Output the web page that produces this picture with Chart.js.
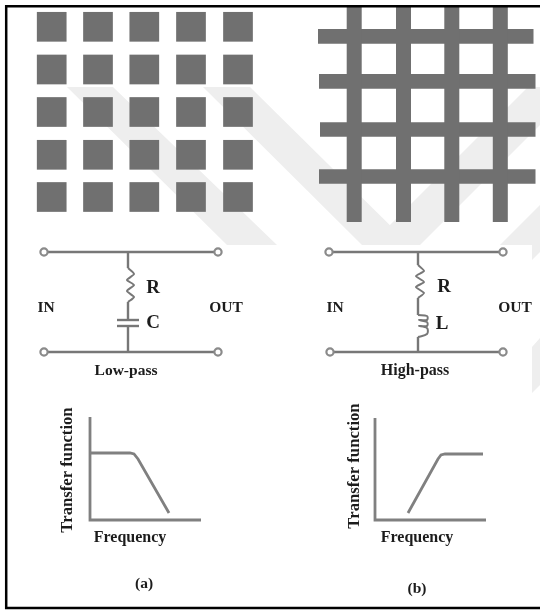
<!DOCTYPE html>
<html><head><meta charset="utf-8">
<style>html,body{margin:0;padding:0;background:#fff}canvas{display:block;filter:blur(0.6px)}</style>
<script src="https://cdn.jsdelivr.net/npm/chart.js@4"></script>
</head><body><canvas id="c" width="540" height="610"></canvas>
<script>
// Squares of the low-pass mesh (centres)
const squareXs=[51.7,98,144.3,191,238];
const squareYs=[26.8,69.5,112,154.8,197];
// Bars of the high-pass mesh
const barXs=[354.2,403.5,451.8,500.3];
const barRows=[
 {y:36.4,x0:318,x1:533.5},{y:81.4,x0:319,x1:535.5},
 {y:129.5,x0:320,x1:535.5},{y:176.5,x0:319,x1:535.5}];
const barTop=7, barBottom=222;
// Watermark shapes
const watermarks=[
 [[67,87],[113,87],[277,245],[227,245]],
 [[203,87],[250,87],[410,245],[362,245]],
 [[370,245],[420,245],[540,125],[540,87],[528,87]],
 [[500,245],[532,245],[532,260],[540,252],[540,205]],
 [[532,347],[540,338],[540,385],[532,393]]];
// Circuit wires and components
const wiresA=[[[44,252],[218,252]],[[44,352],[218,352]],[[128,252],[128,268]],[[128,302],[128,320]],[[128,326],[128,352]],[[117,320],[139,320]],[[117,326],[139,326]]];
const resistorA=[[128,268],[134,274],[127,280],[134,285],[127,291],[134,297],[128,302]];
const wiresB=[[[329,252],[503,252]],[[330,352],[503,352]],[[418,252],[418,265]],[[418,298],[418,315]],[[418,337],[418,352]]];
const resistorB=[[418,265],[424,271],[416,276],[424,282],[416,287],[424,293],[418,298]];
const inductorB=[[418,315],[427,316],[427,320],[419,320],[427,322],[427,326],[419,326],[427,328],[427,334],[418,337]];
const terminals=[[44,252],[218,252],[44,352],[218,352],[329,252],[503,252],[330,352],[503,352]];
// Transfer function plots
const axesA=[[90,417],[90,520],[201,520]];
const curveA=[[90,453],[130,453],[134,454],[138,459],[169,513]];
const axesB=[[375,418],[375,520],[486,520]];
const curveB=[[408,513],[438,459],[441,455],[445,454],[483,454]];
// Frame
const frame=[[540,6.3],[6.2,6.3],[6.2,608],[540,608]];
// Labels
const labels=[
 ["IN",46,308,15.5,0],["OUT",226,308,15.5,0],["R",153,288,19,0],["C",153,323,19,0],["Low-pass",126,371,15.5,0],
 ["IN",335,308,15.5,0],["OUT",515,308,15.5,0],["R",444,287,19,0],["L",442,324,19,0],["High-pass",415,371,16,0],
 ["Transfer function",68,470,16.7,-90],["Frequency",130,538,16,0],["(a)",144,584,15.5,0],
 ["Transfer function",355,466,16.7,-90],["Frequency",417,538,16,0],["(b)",417,589,15.5,0]];

const pts=a=>a.map(p=>({x:p[0],y:p[1]}));
const GREY='#707070', WIRE='#777777';
const line=(a,w,c,extra)=>Object.assign({data:pts(a),showLine:true,borderColor:c||WIRE,borderWidth:w,pointRadius:0,fill:false,tension:0,clip:false},extra||{});
const datasets=[];
// top-most first: Chart.js paints index 0 last
datasets.push(line(frame,2.5,'#000',{borderJoinStyle:'miter'}));
datasets.push({data:pts(terminals),pointStyle:'circle',pointRadius:3.6,pointBackgroundColor:'#fff',pointBorderColor:'#8a8a8a',pointBorderWidth:2.2,showLine:false,clip:false});
wiresA.concat(wiresB).forEach(s=>datasets.push(line(s,2.4)));
datasets.push(line(resistorA,2,WIRE,{tension:0.2}));
datasets.push(line(resistorB,2,WIRE,{tension:0.2}));
datasets.push(line(inductorB,2,WIRE,{tension:0.35}));
datasets.push(line(axesA,2.8,'#808080',{borderJoinStyle:'miter'}));
datasets.push(line(axesB,2.8,'#808080',{borderJoinStyle:'miter'}));
datasets.push(line(curveA,2.8,'#808080'));
datasets.push(line(curveB,2.8,'#808080'));
const squares=[];squareYs.forEach(y=>squareXs.forEach(x=>squares.push([x,y])));
datasets.push({data:pts(squares),pointStyle:'rect',pointRadius:21,pointBorderWidth:0,pointBackgroundColor:GREY,showLine:false,clip:false});
barXs.forEach(x=>datasets.push(line([[x,barTop],[x,barBottom]],15,GREY)));
barRows.forEach(r=>datasets.push(line([[r.x0,r.y],[r.x1,r.y]],14.7,GREY)));
watermarks.forEach(w=>datasets.push(line(w.concat([w[0]]),0,'rgba(0,0,0,0)',{fill:'shape',backgroundColor:'#eeeeee'})));

const textPlugin={id:'texts',afterDatasetsDraw(chart){
  const c=chart.ctx,sx=chart.scales.x,sy=chart.scales.y;
  labels.forEach(([t,x,y,size,rot])=>{
    c.save();c.translate(sx.getPixelForValue(x),sy.getPixelForValue(y));
    c.rotate(rot*Math.PI/180);c.font='bold '+size+'px "Liberation Serif"';
    c.fillStyle='#1c1c1c';c.textAlign='center';c.textBaseline='middle';
    c.fillText(t,0,0);c.restore();});
}};
new Chart(document.getElementById('c'),{type:'scatter',data:{datasets},plugins:[textPlugin],options:{
  responsive:false,animation:false,layout:{padding:0,autoPadding:false},
  plugins:{legend:{display:false},tooltip:{enabled:false},title:{display:false}},
  scales:{x:{type:'linear',display:false,min:0,max:540},y:{type:'linear',display:false,min:0,max:610,reverse:true}}
}});
</script></body></html>
